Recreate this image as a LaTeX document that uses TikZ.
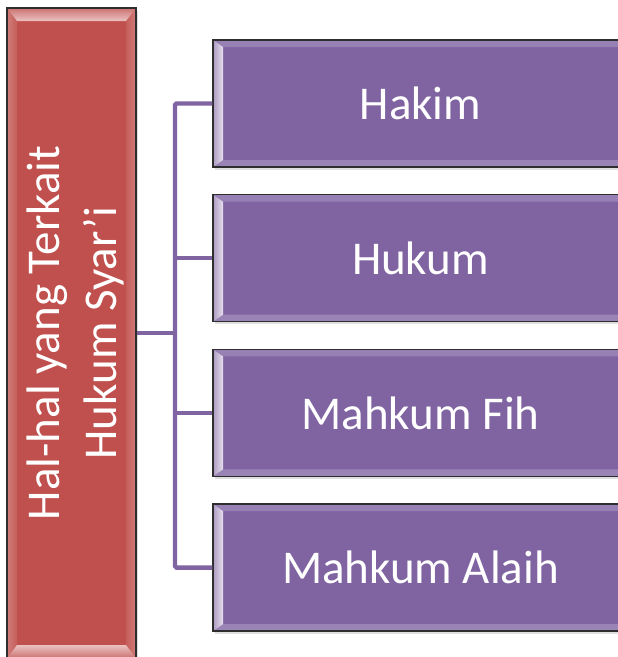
\documentclass[tikz,border=0pt]{standalone}
\usepackage{fontspec}
\setmainfont{Carlito}
\usetikzlibrary{calc,shadows}
\definecolor{boxpurple}{HTML}{8064A2}
\definecolor{boxred}{HTML}{C0504D}
\definecolor{edgedark}{HTML}{2E2E2E}
\tikzset{
  % purple item box with bright bevels on its short (left/right) sides
  itembox/.style={
    draw=edgedark, line width=1.3pt, fill=boxpurple,
    minimum width=415pt, minimum height=127pt, inner sep=0pt,
    drop shadow={shadow xshift=1.5pt, shadow yshift=-2.5pt, opacity=0.25},
    text=white, font=\fontsize{47}{57}\selectfont,
    path picture={
      \coordinate (bvNW) at (path picture bounding box.north west);
      \coordinate (bvNE) at (path picture bounding box.north east);
      \coordinate (bvSW) at (path picture bounding box.south west);
      \coordinate (bvSE) at (path picture bounding box.south east);
      \fill[boxpurple!82!white] (bvNW) -- (bvNE) -- ($(bvNE)+(-10pt,-7pt)$) -- ($(bvNW)+(10pt,-7pt)$) -- cycle;
      \fill[boxpurple!80!white] (bvSW) -- (bvSE) -- ($(bvSE)+(-10pt,7pt)$) -- ($(bvSW)+(10pt,7pt)$) -- cycle;
      \shade[left color=boxpurple!65!white, right color=boxpurple!20!white]
        (bvNW) -- ($(bvNW)+(10pt,-7pt)$) -- ($(bvSW)+(10pt,7pt)$) -- (bvSW) -- cycle;
      \shade[left color=boxpurple!15!white, right color=boxpurple!60!white]
        (bvNE) -- ($(bvNE)+(-10pt,-7pt)$) -- ($(bvSE)+(-10pt,7pt)$) -- (bvSE) -- cycle;
    }},
  % tall red title box with bright bevels on top and bottom
  titlebox/.style={
    draw=edgedark, line width=1.3pt, fill=boxred,
    minimum width=129pt, minimum height=650pt, inner sep=0pt,
    drop shadow={shadow xshift=1.5pt, shadow yshift=-2.5pt, opacity=0.25},
    path picture={
      \coordinate (bvNW) at (path picture bounding box.north west);
      \coordinate (bvNE) at (path picture bounding box.north east);
      \coordinate (bvSW) at (path picture bounding box.south west);
      \coordinate (bvSE) at (path picture bounding box.south east);
      \shade[left color=boxred!75!white, right color=boxred!92!white]
        (bvNW) -- ($(bvNW)+(10pt,-13pt)$) -- ($(bvSW)+(10pt,13pt)$) -- (bvSW) -- cycle;
      \shade[left color=boxred!92!white, right color=boxred!75!white]
        (bvNE) -- ($(bvNE)+(-10pt,-13pt)$) -- ($(bvSE)+(-10pt,13pt)$) -- (bvSE) -- cycle;
      \shade[top color=boxred!80!white, bottom color=boxred!35!white]
        (bvNW) -- (bvNE) -- ($(bvNE)+(-10pt,-13pt)$) -- ($(bvNW)+(10pt,-13pt)$) -- cycle;
      \shade[top color=boxred!35!white, bottom color=boxred!80!white]
        (bvSW) -- (bvSE) -- ($(bvSE)+(-10pt,13pt)$) -- ($(bvSW)+(10pt,13pt)$) -- cycle;
    }},
  titletext/.style={rotate=90, align=center, text=white,
    font=\fontsize{47}{57}\selectfont, inner sep=0pt},
  conn/.style={draw=boxpurple, line width=4.4pt, rounded corners=1.5pt}
}
\begin{document}
\begin{tikzpicture}[x=1pt,y=-1pt]
  \useasboundingbox (0,0) rectangle (618,657);
  % title column
  \node[titlebox] (hal) at (71.5,333) {};
  \node[titletext] (halt) at (75,333) {Hal-hal yang Terkait\\Hukum Syar'i};
  % item boxes
  \node[itembox] (hakim)  at (420.5,103.5) {Hakim};
  \node[itembox] (hukum)  at (420.5,258.2) {Hukum};
  \node[itembox] (fih)    at (420.5,412.9) {Mahkum Fih};
  \node[itembox] (alaih)  at (420.5,567.6) {Mahkum Alaih};
  % tree connectors
  \coordinate (trunk) at (175,333);
  \draw[conn] (hakim.west) -| (trunk) |- (alaih.west);
  \draw[conn] (hukum.west) -- (hukum.west -| trunk);
  \draw[conn] (fih.west) -- (fih.west -| trunk);
  \draw[conn] (hal.east) -- (trunk);
\end{tikzpicture}
\end{document}
